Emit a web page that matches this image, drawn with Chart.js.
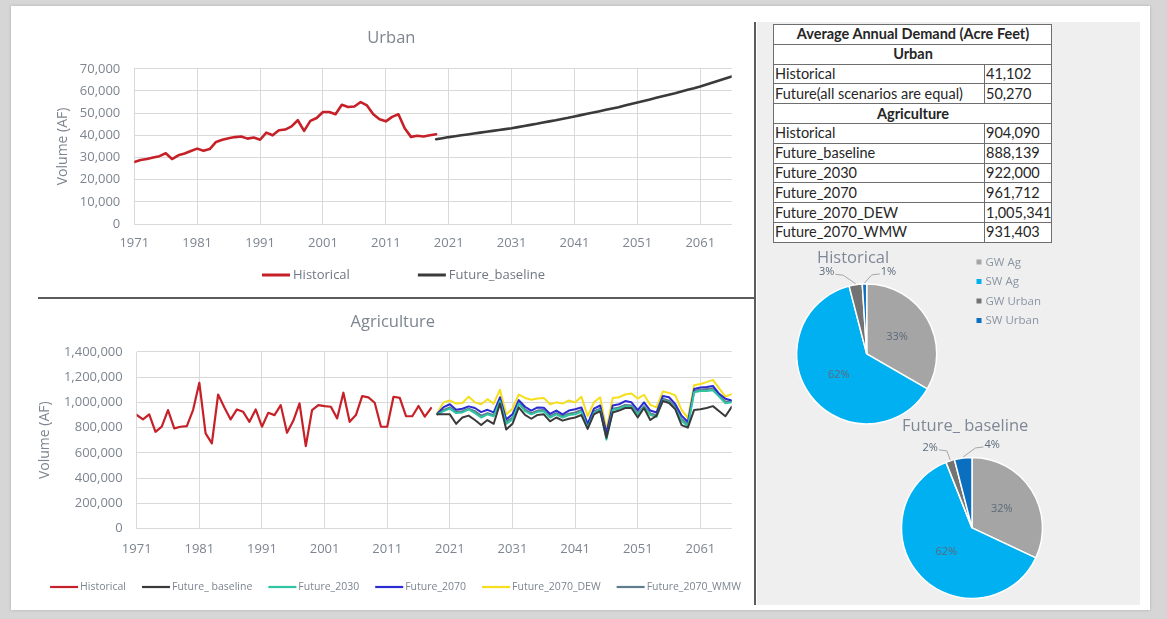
<!DOCTYPE html>
<html>
<head>
<meta charset="utf-8">
<title>Urban and Agriculture Demand</title>
<script src="https://cdn.jsdelivr.net/npm/chart.js@4.4.1/dist/chart.umd.min.js"></script>
<style>
  html, body { margin: 0; padding: 0; }
  body { width: 1167px; height: 619px; background: #d6d6d6; position: relative; overflow: hidden; font-family: 'Open Sans', sans-serif; }
  #card { position: absolute; left: 11px; top: 6px; width: 1139px; height: 604px; background: #ffffff; box-shadow: 0 0 3px rgba(0,0,0,0.18); }
  #panel { position: absolute; left: 757px; top: 22px; width: 383px; height: 583px; background: #efefef; }
  #vline { position: absolute; left: 754px; top: 22px; width: 2px; height: 583px; background: #5c5c5c; }
  #hline { position: absolute; left: 38px; top: 297px; width: 717px; height: 2px; background: #5c5c5c; }
  canvas { position: absolute; }
  #demand { position: absolute; left: 773px; top: 24px; width: 278px; border-collapse: collapse; background: #ffffff;
            font-family: Lato, sans-serif; font-size: 14.5px; color: #262626; table-layout: fixed; }
  #demand td { border: 1px solid #6e6e6e; height: 18.8px; padding: 0 0 0 1px; line-height: 18px; white-space: nowrap; overflow: hidden; }
  #demand td.head { text-align: center; font-weight: bold; }
</style>
</head>
<body>
<div id="card"></div>
<div id="panel"></div>
<div id="vline"></div>
<div id="hline"></div>
<table id="demand">
  <colgroup><col style="width:211px"><col style="width:67px"></colgroup>
  <tbody id="demandBody"></tbody>
</table>
<canvas id="urban" width="719" height="274" style="left:38px;top:22px"></canvas>
<canvas id="agri" width="719" height="306" style="left:38px;top:300px"></canvas>
<canvas id="pieHist" width="280" height="196" style="left:776px;top:240px"></canvas>
<canvas id="pieFuture" width="190" height="211" style="left:880px;top:405px"></canvas>

<script>
// ---- categories ----
const years = [
  1971, 1972, 1973, 1974, 1975, 1976, 1977, 1978, 1979, 1980,
  1981, 1982, 1983, 1984, 1985, 1986, 1987, 1988, 1989, 1990,
  1991, 1992, 1993, 1994, 1995, 1996, 1997, 1998, 1999, 2000,
  2001, 2002, 2003, 2004, 2005, 2006, 2007, 2008, 2009, 2010,
  2011, 2012, 2013, 2014, 2015, 2016, 2017, 2018, 2019, 2020,
  2021, 2022, 2023, 2024, 2025, 2026, 2027, 2028, 2029, 2030,
  2031, 2032, 2033, 2034, 2035, 2036, 2037, 2038, 2039, 2040,
  2041, 2042, 2043, 2044, 2045, 2046, 2047, 2048, 2049, 2050,
  2051, 2052, 2053, 2054, 2055, 2056, 2057, 2058, 2059, 2060,
  2061, 2062, 2063, 2064, 2065, 2066
];
const yearTicks = [1971, 1981, 1991, 2001, 2011, 2021, 2031, 2041, 2051, 2061];
const urbanHistoricalYears = years.slice(0, 49);   // 1971-2019
const agHistoricalYears = years.slice(0, 48);      // 1971-2018
const futureYears = years.slice(48);               // 2019-2066

// ---- Urban demand (AF) ----
const urbanHistorical = [
  28000, 28900, 29300, 30000, 30600, 31900, 29300, 31000, 31800, 32900,
  34000, 33000, 33800, 37000, 38000, 38700, 39200, 39500, 38500, 39000,
  38000, 41200, 40000, 42300, 42600, 44000, 46800, 42000, 46500, 47800,
  50500, 50500, 49500, 53800, 52800, 53000, 55000, 53500, 49500, 47200,
  46300, 48300, 49500, 43200, 39300, 39800, 39500, 40000, 40500
];
const urbanFutureBaseline = [
  38200, 38700, 39200, 39600, 40000, 40400, 40800, 41200, 41600, 42000,
  42400, 42800, 43200, 43700, 44200, 44700, 45200, 45800, 46300, 46800,
  47400, 47900, 48500, 49100, 49700, 50300, 50900, 51500, 52100, 52700,
  53400, 54100, 54800, 55500, 56200, 56900, 57600, 58300, 59000, 59800,
  60500, 61200, 62000, 62900, 63800, 64700, 65600, 66500
];

// ---- Agriculture demand (AF) ----
const agHistorical = [
  900000, 865000, 904000, 767000, 807000, 939000, 794000, 807000, 812000, 939000,
  1155000, 754000, 675000, 1062000, 960000, 865000, 944000, 925000, 846000, 944000,
  807000, 917000, 899000, 978000, 759000, 854000, 991000, 654000, 939000, 978000,
  970000, 965000, 873000, 1076000, 846000, 899000, 1049000, 1039000, 997000, 807000,
  807000, 1044000, 1036000, 891000, 890000, 971000, 887000, 955000
];
const agFutureBaseline = [
  905000, 905000, 905000, 830000, 880000, 895000, 860000, 820000, 860000, 830000,
  990000, 785000, 830000, 960000, 900000, 870000, 900000, 905000, 850000, 880000,
  855000, 870000, 880000, 900000, 790000, 905000, 930000, 720000, 920000, 935000,
  955000, 955000, 880000, 955000, 860000, 895000, 1010000, 995000, 945000, 820000,
  800000, 940000, 945000, 955000, 970000, 930000, 890000, 965000
];
const agFuture2030 = [
  905000, 930000, 950000, 915000, 920000, 945000, 915000, 880000, 905000, 890000,
  1010000, 830000, 865000, 990000, 930000, 905000, 925000, 930000, 880000, 905000,
  880000, 900000, 905000, 925000, 800000, 915000, 940000, 705000, 940000, 950000,
  970000, 965000, 900000, 960000, 900000, 885000, 1015000, 1000000, 950000, 855000,
  810000, 1080000, 1090000, 1090000, 1096000, 1045000, 992000, 1000000
];
const agFuture2070 = [
  910000, 962000, 985000, 941000, 949000, 968000, 955000, 923000, 941000, 920000,
  1040000, 865000, 905000, 1018000, 965000, 935000, 960000, 958000, 908000, 935000,
  905000, 935000, 945000, 960000, 830000, 950000, 975000, 758000, 975000, 985000,
  1010000, 1000000, 938000, 1000000, 935000, 920000, 1050000, 1040000, 985000, 895000,
  845000, 1105000, 1118000, 1122000, 1130000, 1068000, 1028000, 1015000
];
const agFuture2070DEW = [
  915000, 1000000, 1015000, 990000, 995000, 1045000, 1000000, 985000, 1025000, 990000,
  1100000, 905000, 950000, 1062000, 1035000, 1020000, 1030000, 1035000, 985000, 1000000,
  990000, 1015000, 1000000, 1045000, 890000, 1000000, 1040000, 780000, 1035000, 1040000,
  1062000, 1070000, 1030000, 1060000, 980000, 960000, 1085000, 1075000, 1055000, 940000,
  875000, 1135000, 1145000, 1160000, 1178000, 1110000, 1045000, 1065000
];
const agFuture2070WMW = [
  905000, 940000, 960000, 925000, 930000, 950000, 930000, 895000, 915000, 900000,
  1020000, 845000, 880000, 1000000, 945000, 915000, 935000, 940000, 890000, 915000,
  890000, 910000, 920000, 940000, 815000, 930000, 950000, 725000, 950000, 960000,
  980000, 975000, 915000, 970000, 912000, 898000, 1028000, 1012000, 962000, 868000,
  822000, 1090000, 1100000, 1105000, 1110000, 1055000, 1005000, 1010000
];

// ---- demand shares (%) ----
const pieSlices = ['GW Ag', 'SW Ag', 'GW Urban', 'SW Urban'];
const historicalShares = [33, 62, 3, 1];
const futureBaselineShares = [32, 62, 2, 4];

// ---- average annual demand table ----
const urbanAverages = [
  ['Historical', '41,102'],
  ['Future(all scenarios are equal)', '50,270']
];
const agAverages = [
  ['Historical', '904,090'],
  ['Future_baseline', '888,139'],
  ['Future_2030', '922,000'],
  ['Future_2070', '961,712'],
  ['Future_2070_DEW', '1,005,341'],
  ['Future_2070_WMW', '931,403']
];

// ---------------- table ----------------
(function buildTable() {
  const body = document.getElementById('demandBody');
  const headRow = (text) => {
    const tr = document.createElement('tr');
    const td = document.createElement('td');
    td.colSpan = 2; td.className = 'head'; td.textContent = text;
    tr.appendChild(td); body.appendChild(tr);
  };
  const rows = (list) => list.forEach(([name, val]) => {
    const tr = document.createElement('tr');
    [name, val].forEach(t => { const td = document.createElement('td'); td.textContent = t; tr.appendChild(td); });
    body.appendChild(tr);
  });
  headRow('Average Annual Demand (Acre Feet)');
  headRow('Urban');
  rows(urbanAverages);
  headRow('Agriculture');
  rows(agAverages);
})();

// ---------------- shared styling ----------------
const FONT = "'Open Sans', sans-serif";
const TEXT = '#7d8590';
const GRID = '#d9d9d9';
Chart.defaults.font.family = FONT;
Chart.defaults.color = TEXT;

const xy = (xs, ys) => ys.map((v, i) => ({ x: xs[i], y: v }));
const thousands = v => Number(v).toLocaleString('en-US');

// legend row of short line samples followed by the series name
const lineLegend = {
  id: 'lineLegend',
  afterDraw(chart, args, o) {
    const ctx = chart.ctx;
    ctx.save();
    ctx.font = `${o.size}px ${FONT}`;
    const items = chart.data.datasets.map(d => ({ text: d.label, color: d.borderColor, w: ctx.measureText(d.label).width }));
    const total = items.reduce((s, it) => s + o.lineLen + o.textGap + it.w, 0) + o.gap * (items.length - 1);
    let x = (chart.width - total) / 2 + (o.shift || 0);
    ctx.textBaseline = 'middle';
    ctx.textAlign = 'left';
    items.forEach(it => {
      ctx.strokeStyle = it.color;
      ctx.lineWidth = o.lineWidth;
      ctx.beginPath();
      ctx.moveTo(x, o.y);
      ctx.lineTo(x + o.lineLen, o.y);
      ctx.stroke();
      ctx.fillStyle = o.color;
      ctx.fillText(it.text, x + o.lineLen + o.textGap, o.y + 0.5);
      x += o.lineLen + o.textGap + it.w + o.gap;
    });
    ctx.restore();
  }
};

function lineChart(id, cfg) {
  return new Chart(document.getElementById(id), {
    type: 'line',
    data: { datasets: cfg.datasets },
    plugins: [lineLegend],
    options: {
      responsive: false,
      animation: false,
      events: [],
      layout: { padding: cfg.padding },
      elements: {
        point: { radius: 0 },
        line: { tension: 0, borderJoinStyle: 'round', borderCapStyle: 'round' }
      },
      plugins: {
        legend: { display: false },
        tooltip: { enabled: false },
        title: {
          display: true, text: cfg.title, color: TEXT,
          font: { family: FONT, size: 16.5, weight: 'normal' },
          padding: cfg.titlePadding
        },
        lineLegend: cfg.legend
      },
      scales: {
        x: {
          type: 'linear', min: 1971, max: 2066,
          afterBuildTicks: s => { s.ticks = yearTicks.map(v => ({ value: v })); },
          afterFit: s => { s.height = 30; },
          grid: { color: GRID, lineWidth: 1, drawTicks: false },
          border: { display: false },
          ticks: { padding: cfg.xTickPad, color: TEXT, font: { size: 13 }, autoSkip: false, maxRotation: 0, callback: v => String(v) }
        },
        y: {
          min: 0, max: cfg.yMax,
          afterFit: s => { s.width = cfg.yWidth; },
          grid: { color: GRID, lineWidth: 1, drawTicks: false },
          border: { display: false },
          ticks: { stepSize: cfg.yStep, padding: 14, color: TEXT, font: { size: 13 }, callback: thousands },
          title: { display: true, text: 'Volume (AF)', color: TEXT, font: { size: 14 }, padding: { top: cfg.yTitlePad, bottom: 0 } }
        }
      }
    }
  });
}

// ---------------- Urban ----------------
lineChart('urban', {
  title: 'Urban',
  titlePadding: { top: 6, bottom: 21 },
  padding: { left: 13, right: 25.3, top: 0, bottom: 42 },
  yWidth: 83.3, yMax: 70000, yStep: 10000, yTitlePad: 4, xTickPad: 11.5,
  legend: { y: 253, size: 13, lineLen: 28, textGap: 3, gap: 68, shift: 6, lineWidth: 3, color: '#6f7884' },
  datasets: [
    { label: 'Historical', data: xy(urbanHistoricalYears, urbanHistorical), borderColor: '#c62128', borderWidth: 2.6 },
    { label: 'Future_baseline', data: xy(futureYears, urbanFutureBaseline), borderColor: '#3a3a3a', borderWidth: 2.6 }
  ]
});

// ---------------- Agriculture ----------------
lineChart('agri', {
  title: 'Agriculture',
  titlePadding: { top: 12, bottom: 20 },
  padding: { left: 16, right: 25.3, top: 0, bottom: 47.3 },
  yWidth: 82.7, yMax: 1400000, yStep: 200000, yTitlePad: -17, xTickPad: 12.5,
  legend: { y: 287, size: 10.5, lineLen: 28, textGap: 2, gap: 16, shift: -2, lineWidth: 2.2, color: '#7d8590' },
  datasets: [
    { label: 'Historical', data: xy(agHistoricalYears, agHistorical), borderColor: '#c62128', borderWidth: 2.2 },
    { label: 'Future_ baseline', data: xy(futureYears, agFutureBaseline), borderColor: '#3a3a3a', borderWidth: 2 },
    { label: 'Future_2030', data: xy(futureYears, agFuture2030), borderColor: '#2fc4a2', borderWidth: 2 },
    { label: 'Future_2070', data: xy(futureYears, agFuture2070), borderColor: '#2b2bd0', borderWidth: 2 },
    { label: 'Future_2070_DEW', data: xy(futureYears, agFuture2070DEW), borderColor: '#f5df1c', borderWidth: 2 },
    { label: 'Future_2070_WMW', data: xy(futureYears, agFuture2070WMW), borderColor: '#5f7d8c', borderWidth: 2 }
  ]
});

// ---------------- pies ----------------
const sliceColors = ['#a5a5a5', '#00b0f0', '#737373', '#0b6fc0'];

// percentage labels: inside at half radius, small slices outside with a leader line
const sliceLabels = {
  id: 'sliceLabels',
  afterDatasetsDraw(chart, args, o) {
    const ctx = chart.ctx;
    const ds = chart.data.datasets[0];
    const meta = chart.getDatasetMeta(0);
    ctx.save();
    ctx.font = `11px ${FONT}`;
    ctx.textAlign = 'center';
    ctx.textBaseline = 'middle';
    meta.data.forEach((arc, i) => {
      const p = arc.getProps(['x', 'y', 'startAngle', 'endAngle', 'outerRadius'], true);
      const mid = (p.startAngle + p.endAngle) / 2;
      const text = ds.data[i] + '%';
      const off = o.outside[i];
      if (!off) {
        ctx.fillStyle = o.color;
        ctx.fillText(text, p.x + Math.cos(mid) * p.outerRadius * 0.5, p.y + Math.sin(mid) * p.outerRadius * 0.5);
        return;
      }
      const ex = p.x + Math.cos(mid) * p.outerRadius;
      const ey = p.y + Math.sin(mid) * p.outerRadius;
      const lx = ex + off[0], ly = ey + off[1];
      const w = ctx.measureText(text).width;
      const dir = off[0] < 0 ? 1 : -1;
      ctx.strokeStyle = '#a6a6a6';
      ctx.lineWidth = 1;
      ctx.beginPath();
      ctx.moveTo(lx + dir * (w / 2 + 1), ly + 2);
      ctx.lineTo(lx + dir * (w / 2 + 9), ly + 3);
      ctx.lineTo(ex, ey - 1);
      ctx.stroke();
      ctx.fillStyle = o.color;
      ctx.fillText(text, lx, ly);
    });
    ctx.restore();
  }
};

// small square swatches listing the slice names
const swatchLegend = {
  id: 'swatchLegend',
  afterDraw(chart, args, o) {
    if (!o || !o.show) return;
    const ctx = chart.ctx;
    const ds = chart.data.datasets[0];
    ctx.save();
    ctx.font = `11.5px ${FONT}`;
    ctx.textBaseline = 'middle';
    ctx.textAlign = 'left';
    chart.data.labels.forEach((lab, i) => {
      const y = o.y + i * o.step;
      ctx.fillStyle = ds.backgroundColor[i];
      ctx.fillRect(o.x, y - 2.5, 5, 5);
      ctx.fillStyle = o.color;
      ctx.fillText(lab, o.x + 9, y + 0.5);
    });
    ctx.restore();
  }
};

function pieChart(id, cfg) {
  return new Chart(document.getElementById(id), {
    type: 'pie',
    data: {
      labels: pieSlices,
      datasets: [{
        data: cfg.shares, backgroundColor: sliceColors,
        borderColor: '#ffffff', borderWidth: 1.5, radius: cfg.radius, clip: false
      }]
    },
    plugins: [sliceLabels, swatchLegend],
    options: {
      responsive: false,
      animation: false,
      events: [],
      layout: { padding: cfg.padding },
      plugins: {
        legend: { display: false },
        tooltip: { enabled: false },
        title: {
          display: true, text: cfg.title, align: 'start', color: '#7f8896',
          font: { family: FONT, size: 16.5, weight: 'normal' },
          padding: cfg.titlePadding
        },
        sliceLabels: { color: '#5b6a7b', outside: cfg.outside },
        swatchLegend: cfg.legend
      }
    }
  });
}

pieChart('pieHist', {
  title: 'Historical',
  shares: historicalShares,
  radius: 70,
  padding: { left: 41, right: 139.6, top: 0, bottom: 0 },
  titlePadding: { top: 8, bottom: 4 },
  outside: { 2: [-29, -12.5], 3: [24, -12] },
  legend: { show: true, x: 200.5, y: 22, step: 19.5, color: '#8a95a3' }
});

pieChart('pieFuture', {
  title: 'Future_ baseline',
  shares: futureBaselineShares,
  radius: 70.5,
  padding: { left: 22, right: 28, top: 0, bottom: 0 },
  titlePadding: { top: 11, bottom: 4 },
  outside: { 2: [-20, -13], 3: [29, -13] },
  legend: { show: false }
});
</script>
</body>
</html>
